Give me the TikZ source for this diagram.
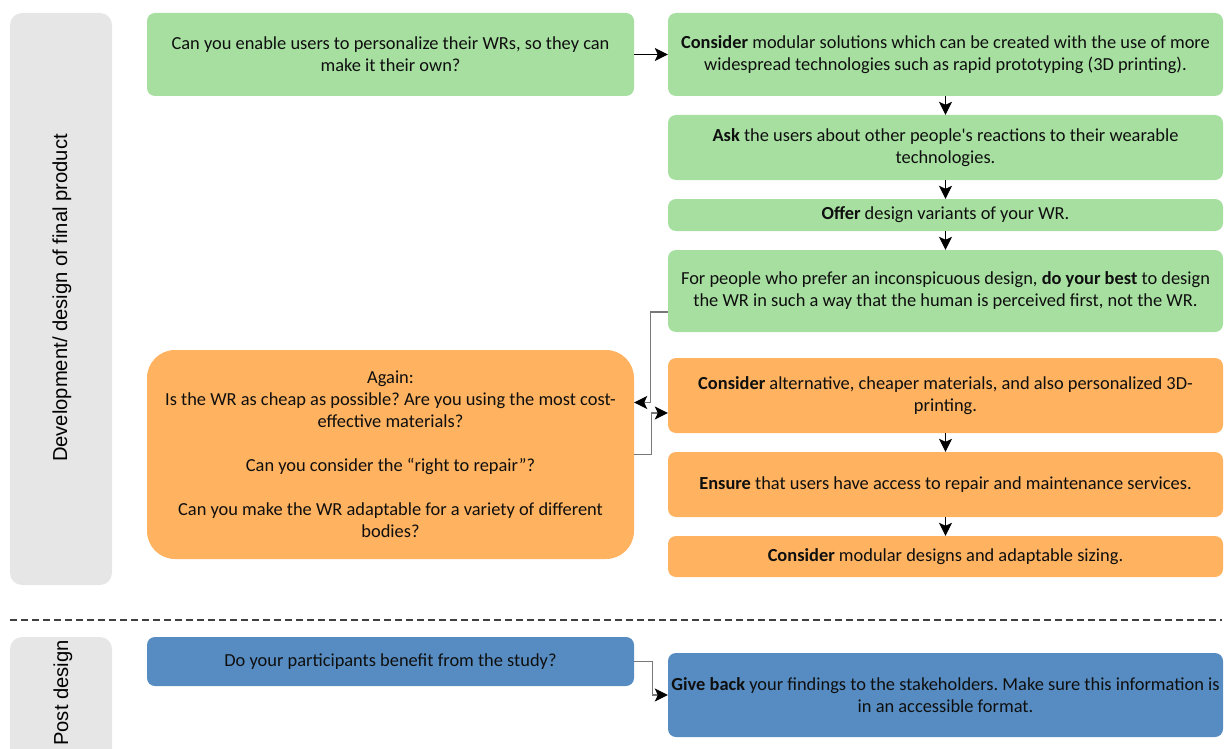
\documentclass[tikz,border=0pt]{standalone}
\usepackage{fontspec}
\setmainfont{Carlito}
\newfontfamily\phasefont{Liberation Sans}
\usetikzlibrary{arrows.meta}
\frenchspacing

\definecolor{boxgreen}{RGB}{166,223,160}
\definecolor{boxorange}{RGB}{255,178,95}
\definecolor{boxblue}{RGB}{86,140,193}
\definecolor{phasegray}{RGB}{230,230,230}
\definecolor{textdark}{RGB}{15,15,15}
\definecolor{linkgray}{RGB}{120,120,120}

\begin{document}
\begin{tikzpicture}[x=1pt,y=-1pt,
    box/.style={rounded corners=8pt, inner sep=0pt, align=center, text=textdark,
      font=\fontsize{18.4}{22}\selectfont},
    leftbox/.style={box, minimum width=487},
    rightbox/.style={box, minimum width=555},
    phase/.style={fill=phasegray, rounded corners=12pt, minimum width=102, inner sep=0pt},
    phaselabel/.style={rotate=90, font=\phasefont\fontsize{20.2}{24}\selectfont, text=black},
    flow/.style={-{Stealth[length=13pt,width=13pt,inset=3pt]}, line width=1pt, black},
    link/.style={-{Stealth[length=13pt,width=13pt,inset=3pt,color=black]}, line width=1.2pt, draw=linkgray}]
        \clip (0,0) rectangle (1226,749);

        % phases
        \node[phase, minimum height=572] (devphase) at (61,299) {};
        \node[phaselabel] (devlabel) at (62,298) {Development/ design of final product};
        \node[phase, minimum height=128] (postphase) at (61,701) {};
        \node[phaselabel] (postlabel) at (63,693) {Post design};
        \draw[dash pattern=on 7pt off 4pt, line width=1.3pt, black!75] (10,620) -- (1222,620);

        % personalization
        \node[leftbox, fill=boxgreen, minimum height=83] (G0) at (390.5,54.5)
          {Can you enable users to personalize their WRs, so they can\\make it their own?};
        \node[rightbox, fill=boxgreen, minimum height=83] (G1) at (945.5,54.5)
          {\textbf{Consider} modular solutions which can be created with the use of more\\widespread technologies such as rapid prototyping (3D printing).};
        \node[rightbox, fill=boxgreen, minimum height=65] (G2) at (945.5,147.5)
          {\textbf{Ask} the users about other people\textquotesingle s reactions to their wearable\\technologies.};
        \node[rightbox, fill=boxgreen, minimum height=32] (G3) at (945.5,215)
          {\textbf{Offer} design variants of your WR.};
        \node[rightbox, fill=boxgreen, minimum height=82] (G4) at (945.5,291)
          {For people who prefer an inconspicuous design, \textbf{do your best} to design\\the WR in such a way that the human is perceived first, not the WR.};

        % costs and repair
        \node[leftbox, fill=boxorange, minimum height=209, rounded corners=28pt] (O0) at (390.5,454.5)
          {Again:\\Is the WR as cheap as possible? Are you using the most cost-\\effective materials?\\[22pt]Can you consider the “right to repair”?\\[22pt]Can you make the WR adaptable for a variety of different\\bodies?};
        \node[rightbox, fill=boxorange, minimum height=75] (O1) at (945.5,395.5)
          {\textbf{Consider} alternative, cheaper materials, and also personalized 3D-\\printing.};
        \node[rightbox, fill=boxorange, minimum height=65] (O2) at (945.5,484.5)
          {\textbf{Ensure} that users have access to repair and maintenance services.};
        \node[rightbox, fill=boxorange, minimum height=41] (O3) at (945.5,556.5)
          {\textbf{Consider} modular designs and adaptable sizing.};

        % post design
        \node[leftbox, fill=boxblue, minimum height=49] (B0) at (390.5,661.5)
          {Do your participants benefit from the study?};
        \node[rightbox, fill=boxblue, minimum height=84] (B1) at (945.5,695)
          {\textbf{Give back} your findings to the stakeholders. Make sure this information is\\in an accessible format.};

        \draw[flow] (G0) -- (G1);
        \draw[flow] (G1) -- (G2);
        \draw[flow] (G2) -- (G3);
        \draw[flow] (G3) -- (G4);
        \draw[flow] (O1) -- (O2);
        \draw[flow] (O2) -- (O3);

        \draw[link] ([yshift=-21pt]G4.west) -- ++(-17,0) |- ([yshift=52pt]O0.east);
        \draw[link] (O0.east) -- ++(17,0) |- ([yshift=-17.5pt]O1.west);
        \draw[link] (B0.east) -- ++(18,0) |- (B1.west);
\end{tikzpicture}
\end{document}
